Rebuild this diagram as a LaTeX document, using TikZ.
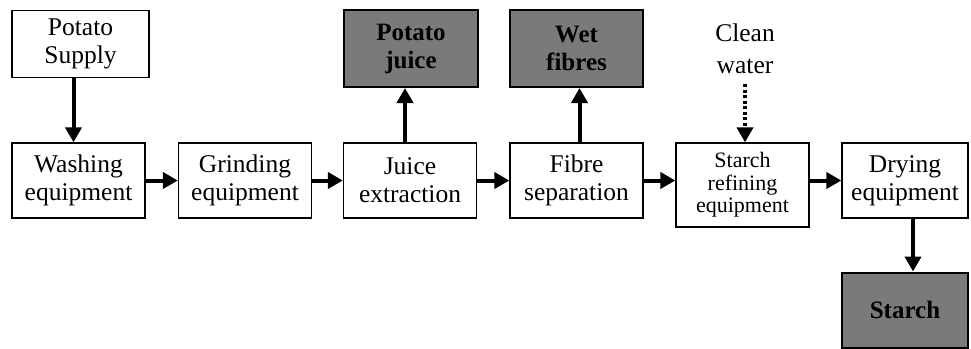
\documentclass[tikz,border=0pt]{standalone}
\usepackage{fontspec}
\setmainfont{Liberation Serif}
\usetikzlibrary{arrows.meta}
\begin{document}
\begin{tikzpicture}[x=1pt,y=-1pt,
  box/.style={draw=black,line width=1.3pt,rectangle,inner sep=0pt,align=center,
    minimum width=133pt,minimum height=75pt,font=\fontsize{25.5}{28}\selectfont},
  smallbox/.style={box,font=\fontsize{22}{22.5}\selectfont},
  graybox/.style={box,fill=black!52,line width=2pt,font=\bfseries\fontsize{25}{28}\selectfont},
  arr/.style={line width=4pt,-{Triangle[length=15pt,width=16pt]}},
  dotarr/.style={line width=4pt,dash pattern=on 3pt off 2.5pt,-{Triangle[length=15pt,width=16pt]}}]
\useasboundingbox (0,0) rectangle (971,348);
\node[box,minimum width=137pt,minimum height=67pt] (sup) at (80.5,44) {Potato\\Supply};
\node[box] (wash) at (78.5,180.5) {Washing\\equipment};
\node[box] (grind) at (245,180.5) {Grinding\\equipment};
\node[box] (juice) at (410,180.5) {Juice\\extraction};
\node[box] (fibre) at (576.5,180.5) {Fibre\\separation};
\node[smallbox,minimum height=84pt] (refine) at (742.5,185) {Starch\\refining\\equipment};
\node[box,minimum width=126pt] (dry) at (905,180.5) {Drying\\equipment};
\node[graybox,minimum width=134pt,minimum height=77pt] (pjuice) at (411,48.5) {Potato\\juice};
\node[graybox,minimum width=133pt,minimum height=77pt] (wetf) at (576.5,48.5) {Wet\\fibres};
\node[graybox,minimum width=126pt,minimum height=75pt] (starch) at (905,310) {Starch};
\node[align=center,inner sep=0pt,font=\fontsize{25.5}{32}\selectfont] (clean) at (745,49) {Clean\\water};
\draw[arr] ([xshift=-7pt]sup.south) -- ([xshift=-7pt]sup.south |- wash.north);
\draw[arr] (wash.east) -- (grind.west);
\draw[arr] (grind.east) -- (juice.west);
\draw[arr] (juice.east) -- (fibre.west);
\draw[arr] (fibre.east) -- (fibre.east -| refine.west);
\draw[arr] (refine.east |- dry.west) -- (dry.west);
\draw[arr] ([xshift=-5pt]juice.north) -- ([xshift=-5pt]juice.north |- pjuice.south);
\draw[arr] ([xshift=3pt]fibre.north) -- ([xshift=3pt]fibre.north |- wetf.south);
\draw[dotarr] ([yshift=-10pt]clean.south) -- (clean.south |- refine.north);
\draw[arr] ([xshift=8pt]dry.south) -- ([xshift=8pt]dry.south |- starch.north);
\end{tikzpicture}
\end{document}
